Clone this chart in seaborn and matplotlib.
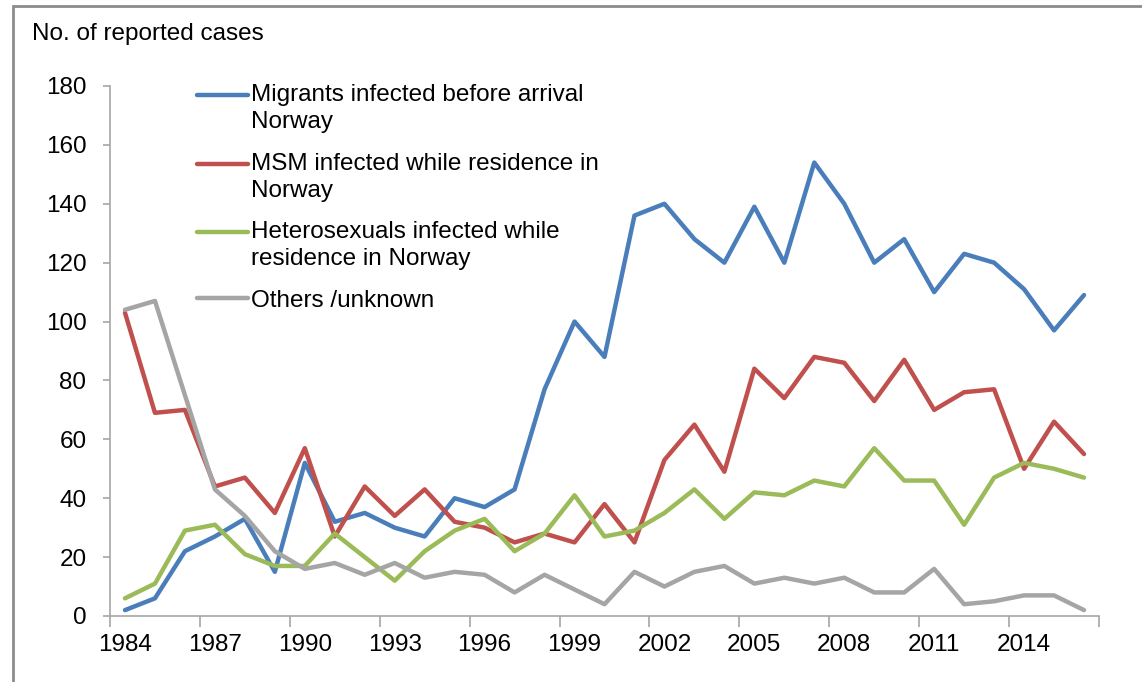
import numpy as np
import pandas as pd
import matplotlib.pyplot as plt
import seaborn as sns
from matplotlib.patches import Rectangle
from matplotlib.legend_handler import HandlerLine2D

# data
years = list(range(1984, 2017))
migrants = [2, 6, 22, 27, 33, 15, 52, 32, 35, 30, 27, 40, 37, 43, 77, 100, 88,
            136, 140, 128, 120, 139, 120, 154, 140, 120, 128, 110, 123, 120, 111, 97, 109]
msm = [103, 69, 70, 44, 47, 35, 57, 27, 44, 34, 43, 32, 30, 25, 28, 25, 38,
       25, 53, 65, 49, 84, 74, 88, 86, 73, 87, 70, 76, 77, 50, 66, 55]
hetero = [6, 11, 29, 31, 21, 17, 17, 28, 20, 12, 22, 29, 33, 22, 28, 41, 27,
          29, 35, 43, 33, 42, 41, 46, 44, 57, 46, 46, 31, 47, 52, 50, 47]
others = [104, 107, 75, 43, 34, 22, 16, 18, 14, 18, 13, 15, 14, 8, 14, 9, 4,
          15, 10, 15, 17, 11, 13, 11, 13, 8, 8, 16, 4, 5, 7, 7, 2]
labels = ["Migrants infected before arrival\nNorway",
          "MSM infected while residence in\nNorway",
          "Heterosexuals infected while\nresidence in Norway",
          "Others /unknown"]
colors = ["#4A7EBB", "#C0504D", "#9BBB59", "#A5A5A5"]

long = pd.concat([
    pd.DataFrame({"pos": range(len(years)), "cases": vals, "group": lab})
    for vals, lab in zip([migrants, msm, hetero, others], labels)
])


class TopLine(HandlerLine2D):
    # put the legend line next to the first text line, like Excel does
    def __init__(self, shift=0, **kw):
        super().__init__(**kw)
        self.shift = shift

    def create_artists(self, legend, orig_handle, xdescent, ydescent,
                       width, height, fontsize, trans):
        arts = super().create_artists(legend, orig_handle, xdescent, ydescent,
                                      width, height, fontsize, trans)
        for a in arts:
            a.set_ydata(np.asarray(a.get_ydata()) + self.shift)
        return arts


sns.set_style("white")
plt.rcParams['font.family'] = ['Liberation Sans', 'DejaVu Sans']
plt.rcParams['text.color'] = 'black'
plt.rcParams['xtick.labelcolor'] = 'black'
plt.rcParams['ytick.labelcolor'] = 'black'

fig = plt.figure(figsize=(11.42, 6.82), dpi=100)
ax = fig.add_axes([110 / 1142, 66 / 682, 989 / 1142, 530 / 682])

sns.lineplot(data=long, x="pos", y="cases", hue="group", hue_order=labels,
             palette=colors, lw=3.2, ax=ax, legend=True)

ax.set_xlim(-0.5, len(years) - 0.5)
ax.set_ylim(0, 180)
ax.set_yticks(range(0, 181, 20))
ax.tick_params(axis="y", labelsize=17.5, length=5, color="#A6A6A6", width=1.2,
               left=True, pad=12)

# tick marks between categories, labels on every third year
ax.set_xticks([i - 0.5 for i in range(0, len(years) + 1, 3)])
ax.set_xticklabels([])
ax.set_xticks(list(range(0, len(years), 3)), minor=True)
ax.set_xticklabels([str(y) for y in years[::3]], minor=True)
ax.tick_params(axis="x", which="major", length=8, color="#A6A6A6", width=1.2,
               bottom=True)
ax.tick_params(axis="x", which="minor", length=0, labelsize=17.5, pad=13)

for s in ["top", "right"]:
    ax.spines[s].set_visible(False)
for s in ["left", "bottom"]:
    ax.spines[s].set_color("#A6A6A6")
    ax.spines[s].set_linewidth(1.2)

ax.set_xlabel("")
ax.set_ylabel("")

handles, labs = ax.get_legend_handles_labels()
shifts = [9.7 if "\n" in l else 0 for l in labs]
leg = ax.legend(handles, labs, loc="upper left",
                bbox_to_anchor=(0.078, 1.022), frameon=False,
                fontsize=17.5, handlelength=2.1, handletextpad=0.12,
                labelspacing=0.8, borderaxespad=0,
                handler_map={h: TopLine(shift=s) for h, s in zip(handles, shifts)})
for t in leg.get_texts():
    t.set_linespacing(1.3)

fig.text(32 / 1142, 1 - 34 / 682, "No. of reported cases", fontsize=17.5,
         va="center", ha="left")

# chart frame (only top and left edges visible in the crop)
fig.patches.append(Rectangle((13 / 1142, -0.1), 1.2, 1 - 6 / 682 + 0.1,
                             transform=fig.transFigure, fill=False,
                             edgecolor="#8C8C8C", lw=2))

fig.savefig("out.png", dpi=100)
